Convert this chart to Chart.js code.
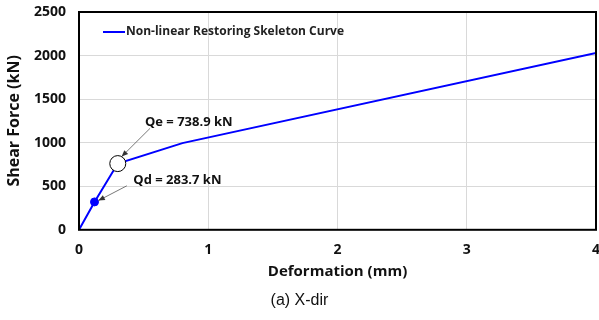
<!DOCTYPE html>
<html>
<head>
<meta charset="utf-8">
<script src="https://cdn.jsdelivr.net/npm/chart.js@4"></script>
<style>
  html, body { margin: 0; padding: 0; background: #fff; }
  #wrap { width: 599px; height: 320px; }
</style>
</head>
<body>
<div id="wrap"><canvas id="c" width="599" height="320"></canvas></div>
<script>
// skeleton curve (mm, kN)
const deformation = [0, 0.12, 0.3, 0.8, 4];
const shearForce = [0, 320, 760, 995, 2030];
const seriesLabel = 'Non-linear Restoring Skeleton Curve';
const xTicks = [0, 1, 2, 3, 4];
const yTicks = [0, 500, 1000, 1500, 2000, 2500];
// annotation text + arrow (from, to) in data units
const notes = [
  { text: 'Qe = 738.9 kN', at: [0.51, 1230], from: [0.55, 1165], to: [0.33, 840] },
  { text: 'Qd = 283.7 kN', at: [0.42, 570], from: [0.37, 505], to: [0.15, 335] }
];

const FONT = '"Open Sans", Lato, sans-serif';

const extras = {
  id: 'extras',
  afterDatasetsDraw(chart) {
    const { ctx, chartArea: a, scales: { x, y } } = chart;
    ctx.save();
    // plot border
    ctx.strokeStyle = '#000';
    ctx.lineWidth = 2;
    ctx.strokeRect(a.left, a.top, a.right - a.left, a.bottom - a.top);
    // legend inside
    ctx.strokeStyle = '#0000ff';
    ctx.lineWidth = 2;
    ctx.beginPath();
    ctx.moveTo(a.left + 24, a.top + 20);
    ctx.lineTo(a.left + 46, a.top + 20);
    ctx.stroke();
    ctx.fillStyle = '#222';
    ctx.font = 'bold 12px ' + FONT;
    ctx.textBaseline = 'middle';
    ctx.fillText(seriesLabel, a.left + 47, a.top + 20);
    // annotations
    notes.forEach(n => {
      ctx.fillStyle = '#111';
      ctx.font = 'bold 13px ' + FONT;
      ctx.fillText(n.text, x.getPixelForValue(n.at[0]), y.getPixelForValue(n.at[1]));
      const x1 = x.getPixelForValue(n.from[0]), y1 = y.getPixelForValue(n.from[1]);
      const x2 = x.getPixelForValue(n.to[0]), y2 = y.getPixelForValue(n.to[1]);
      ctx.strokeStyle = '#555';
      ctx.fillStyle = '#333';
      ctx.lineWidth = 0.8;
      ctx.beginPath();
      ctx.moveTo(x1, y1);
      ctx.lineTo(x2, y2);
      ctx.stroke();
      const ang = Math.atan2(y2 - y1, x2 - x1);
      ctx.beginPath();
      ctx.moveTo(x2, y2);
      ctx.lineTo(x2 - 7 * Math.cos(ang - 0.4), y2 - 7 * Math.sin(ang - 0.4));
      ctx.lineTo(x2 - 7 * Math.cos(ang + 0.4), y2 - 7 * Math.sin(ang + 0.4));
      ctx.closePath();
      ctx.fill();
    });
    ctx.restore();
  }
};

new Chart(document.getElementById('c'), {
  type: 'scatter',
  data: {
    datasets: [{
      label: seriesLabel,
      data: deformation.map((d, i) => ({ x: d, y: shearForce[i] })),
      showLine: true,
      borderColor: '#0000ff',
      borderWidth: 2,
      pointRadius: [0, 4, 8, 0, 0],
      pointBackgroundColor: ['#0000ff', '#0000ff', '#ffffff', '#0000ff', '#0000ff'],
      pointBorderColor: ['#0000ff', '#0000ff', '#000000', '#0000ff', '#0000ff'],
      pointBorderWidth: [1, 1, 1, 1, 1]
    }]
  },
  options: {
    responsive: false,
    animation: false,
    layout: { padding: { top: 12, right: 0, left: 0, bottom: 0 } },
    plugins: {
      legend: { display: false },
      tooltip: { enabled: false },
      title: {
        display: true,
        position: 'bottom',
        text: '(a) X-dir',
        color: '#111',
        font: { family: 'Arial, "Liberation Sans", sans-serif', size: 16, weight: 'normal', lineHeight: 1.2 },
        padding: { top: 3, bottom: 10 }
      }
    },
    scales: {
      x: {
        type: 'linear',
        min: 0, max: 4,
        afterBuildTicks: s => { s.ticks = xTicks.map(v => ({ value: v })); },
        afterFit: s => { s.height = 58; s.paddingRight = 3; s.paddingLeft = 0; },
        grid: { color: '#d9d9d9', drawTicks: false },
        border: { display: false },
        ticks: { color: '#111', padding: 12, font: { family: FONT, size: 14, weight: 'bold' }, callback: v => String(v) },
        title: { display: true, text: 'Deformation (mm)', color: '#111', padding: { top: 0, bottom: 7 },
                 font: { family: FONT, size: 15, weight: 'bold', lineHeight: 1.2 } }
      },
      y: {
        min: 0, max: 2500,
        afterBuildTicks: s => { s.ticks = yTicks.map(v => ({ value: v })); },
        afterFit: s => { s.width = 79; s.paddingTop = 0; s.paddingBottom = 0; },
        grid: { color: '#d9d9d9', drawTicks: false },
        border: { display: false },
        ticks: { color: '#111', padding: 13, font: { family: FONT, size: 14, weight: 'bold' }, callback: v => String(v) },
        title: { display: true, text: 'Shear Force (kN)', color: '#111', padding: { top: 5, bottom: 0 },
                 font: { family: FONT, size: 16, weight: 'bold', lineHeight: 1.2 } }
      }
    }
  },
  plugins: [extras]
});
</script>
</body>
</html>
